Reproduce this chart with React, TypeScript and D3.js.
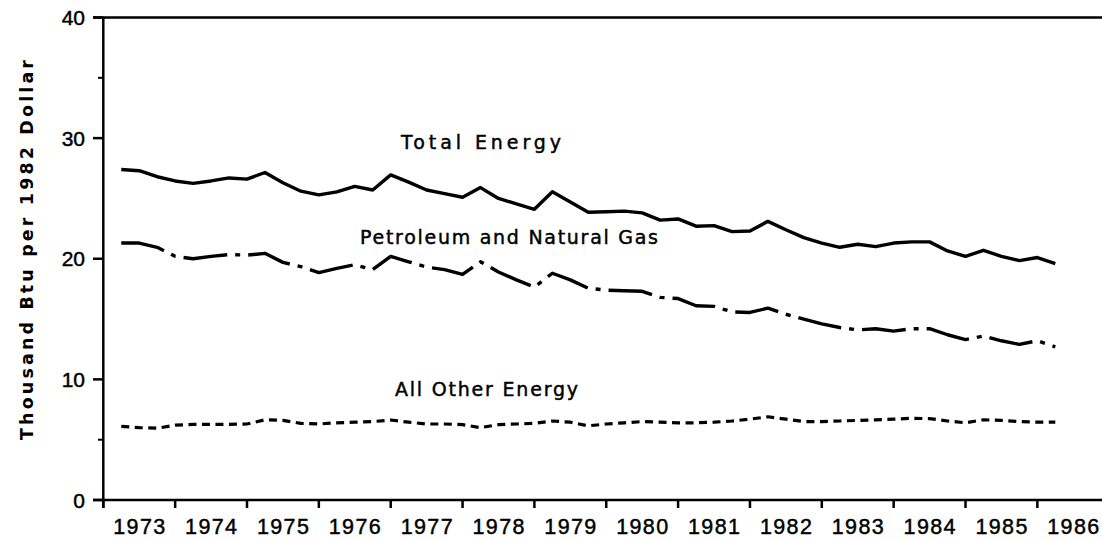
import React from "react";
import * as d3 from "d3";

const years = [1973, 1974, 1975, 1976, 1977, 1978, 1979, 1980, 1981, 1982, 1983, 1984, 1985, 1986];
const yTicks = [0, 10, 20, 30, 40];
const yMinorTicks = [5, 35];

// quarterly values, 1973 Q1 .. 1986 Q1
const totalEnergy = [
  27.4, 27.3, 26.8, 26.45, 26.25, 26.45, 26.7, 26.6, 27.15, 26.3,
  25.6, 25.3, 25.55, 26.0, 25.7, 26.95, 26.35, 25.7, 25.4, 25.1,
  25.9, 25.0, 24.55, 24.1, 25.55, 24.7, 23.85, 23.9, 23.95, 23.8,
  23.2, 23.3, 22.7, 22.75, 22.25, 22.3, 23.1, 22.4, 21.75, 21.3,
  20.95, 21.2, 21.0, 21.3, 21.4, 21.4, 20.65, 20.2, 20.7, 20.2,
  19.85, 20.1, 19.6,
];
const petroleumGas = [
  21.3, 21.3, 20.95, 20.2, 20.0, 20.2, 20.35, 20.3, 20.45, 19.7,
  19.35, 18.85, 19.2, 19.5, 19.1, 20.2, 19.75, 19.3, 19.1, 18.7,
  19.75, 18.9, 18.25, 17.65, 18.8, 18.25, 17.55, 17.4, 17.35, 17.3,
  16.8, 16.7, 16.1, 16.05, 15.6, 15.55, 15.9, 15.4, 15.0, 14.6,
  14.3, 14.1, 14.2, 14.0, 14.2, 14.2, 13.7, 13.3, 13.6, 13.2,
  12.9, 13.2, 12.7,
];
const allOther = [
  6.1, 6.0, 5.95, 6.2, 6.27, 6.27, 6.27, 6.3, 6.65, 6.6,
  6.35, 6.3, 6.4, 6.45, 6.5, 6.63, 6.45, 6.3, 6.3, 6.25,
  6.0, 6.25, 6.3, 6.35, 6.55, 6.45, 6.15, 6.3, 6.4, 6.5,
  6.45, 6.4, 6.4, 6.45, 6.55, 6.7, 6.9, 6.7, 6.5, 6.5,
  6.55, 6.6, 6.65, 6.7, 6.77, 6.75, 6.55, 6.4, 6.65, 6.6,
  6.5, 6.45, 6.45,
];

const FONT = "'Liberation Sans', Arial, sans-serif";
const LFONT = "'DejaVu Sans', sans-serif";

export default function App() {
  const W = 1102;
  const H = 539;
  const x0 = 103.3;
  const yearW = 71.85;
  const x = d3.scaleLinear().domain([1973, 1987]).range([x0, x0 + 14 * yearW]);
  const y = d3.scaleLinear().domain([0, 40]).range([500, 17.5]);

  const t = (i: number) => 1973 + (i + 1) / 4;
  const line = d3
    .line<number>()
    .x((_, i) => x(t(i)))
    .y((d) => y(d));

  const series = [
    { data: totalEnergy, dash: undefined as string | undefined, w: 3.4 },
    { data: petroleumGas, dash: "44,8,5,8", w: 3.4 },
    { data: allOther, dash: "8,5.5", w: 3.2 },
  ];

  const textStroke = { stroke: "#000", strokeWidth: 0.45 };

  return (
    <svg width={W} height={H} style={{ position: "absolute", left: 0, top: 0, background: "#fff" }}>
      <line x1={93} x2={W} y1={y(40)} y2={y(40)} stroke="#000" strokeWidth={2.5} />
      <line x1={93} x2={W} y1={y(0)} y2={y(0)} stroke="#000" strokeWidth={2.5} />
      <line x1={x0} x2={x0} y1={y(40)} y2={508} stroke="#000" strokeWidth={2.5} />
      {yTicks.map((v) => (
        <g key={v}>
          <line x1={93} x2={x0} y1={y(v)} y2={y(v)} stroke="#000" strokeWidth={2.5} />
          <text x={85} y={y(v) + 7.5} textAnchor="end" fontFamily={FONT} fontSize={21} fill="#000" {...textStroke}>
            {v}
          </text>
        </g>
      ))}
      {yMinorTicks.map((v) => (
        <line key={v} x1={98} x2={x0} y1={y(v)} y2={y(v)} stroke="#000" strokeWidth={2} />
      ))}
      {years.map((yr) => (
        <g key={yr}>
          <line x1={x(yr)} x2={x(yr)} y1={y(0)} y2={508} stroke="#000" strokeWidth={2.5} />
          <text
            x={x(yr + 0.5)}
            y={533.5}
            textAnchor="middle"
            fontFamily={FONT}
            fontSize={21.5}
            textLength={52}
            lengthAdjust="spacing"
            fill="#000"
            {...textStroke}
          >
            {yr}
          </text>
        </g>
      ))}
      <text
        transform={`translate(33,250) rotate(-90)`}
        textAnchor="middle"
        fontFamily={LFONT}
        fontWeight="bold"
        fontSize={17.5}
        textLength={380}
        lengthAdjust="spacing"
        fill="#000"
      >
        Thousand Btu per 1982 Dollar
      </text>
      {series.map((s, k) => (
        <path
          key={k}
          d={line(s.data) || ""}
          fill="none"
          stroke="#000"
          strokeWidth={s.w}
          strokeDasharray={s.dash}
          strokeLinejoin="round"
        />
      ))}
      <text x={401} y={149} fontFamily={LFONT} fontSize={19} textLength={160} lengthAdjust="spacing" fill="#000" {...textStroke}>
        Total Energy
      </text>
      <text x={360} y={244} fontFamily={LFONT} fontSize={19} textLength={298} lengthAdjust="spacing" fill="#000" {...textStroke}>
        Petroleum and Natural Gas
      </text>
      <text x={395} y={396} fontFamily={LFONT} fontSize={19} textLength={183} lengthAdjust="spacing" fill="#000" {...textStroke}>
        All Other Energy
      </text>
    </svg>
  );
}
